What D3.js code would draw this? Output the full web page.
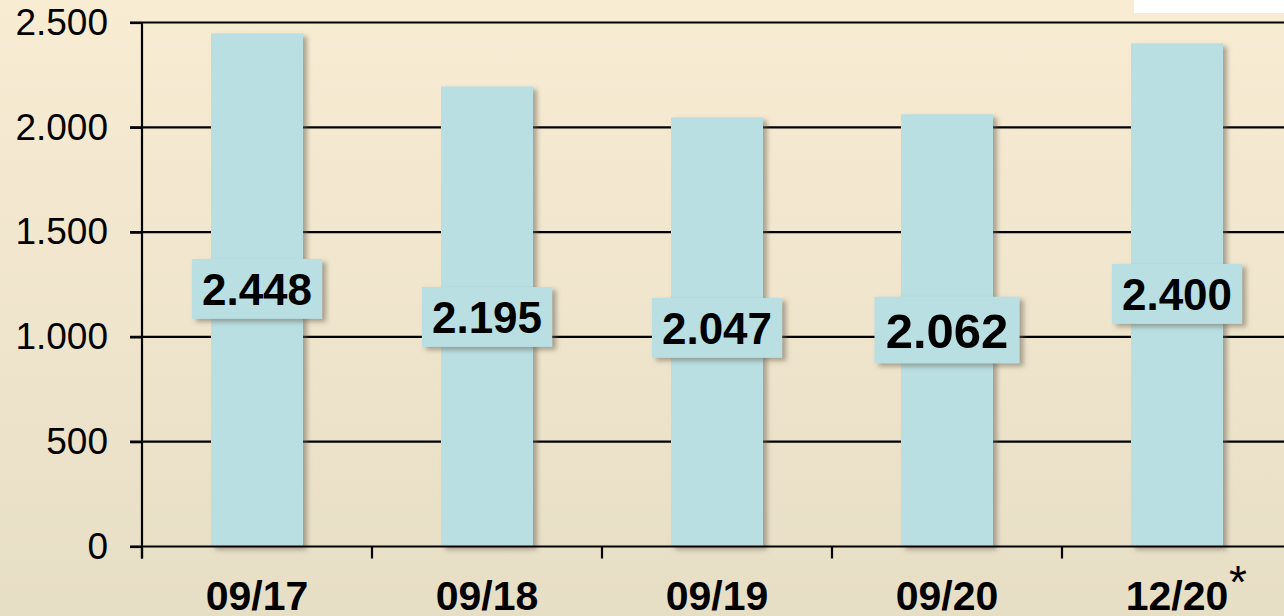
<!DOCTYPE html>
<html lang="en">
<head>
    <meta charset="UTF-8" />
    <title>Bar chart</title>
    <script src="https://d3js.org/d3.v7.min.js"></script>
    <style>
        html, body { margin: 0; padding: 0; }
        svg { display: block; font-family: "Liberation Sans", Arial, sans-serif; }
    </style>
</head>
<body>
    <script>
        // data
        const categories = ["09/17", "09/18", "09/19", "09/20", "12/20"];
        const values = [2448, 2195, 2047, 2062, 2400];
        const valueLabels = ["2.448", "2.195", "2.047", "2.062", "2.400"];
        const yTicks = [0, 500, 1000, 1500, 2000, 2500];
        const yTickLabels = ["0", "500", "1.000", "1.500", "2.000", "2.500"];

        // where the label boxes sit (value units) and their font size
        const labelAt = [1229, 1095, 1043, 1033, 1205];
        const labelFont = [44, 44, 44, 49, 44];

        const width = 1284, height = 616;
        const margin = { left: 142, top: 22.5, bottom: 69.5 };

        const svg = d3.select("body").append("svg")
            .attr("width", width)
            .attr("height", height);

        const defs = svg.append("defs");
        const grad = defs.append("linearGradient")
            .attr("id", "bg").attr("x1", 0).attr("y1", 0).attr("x2", 0).attr("y2", 1);
        grad.append("stop").attr("offset", "0%").attr("stop-color", "#f8ecd3");
        grad.append("stop").attr("offset", "100%").attr("stop-color", "#e7dec6");

        const shadow = defs.append("filter").attr("id", "shadow")
            .attr("x", "-20%").attr("y", "-20%").attr("width", "150%").attr("height", "150%");
        shadow.append("feDropShadow")
            .attr("dx", 4).attr("dy", 3).attr("stdDeviation", 2.5)
            .attr("flood-color", "#6b6555").attr("flood-opacity", 0.55);

        svg.append("rect").attr("width", width).attr("height", height).attr("fill", "url(#bg)");
        svg.append("rect").attr("x", 1134).attr("y", 0).attr("width", 150).attr("height", 13).attr("fill", "#ffffff");

        // scales
        const x = d3.scaleBand()
            .domain(categories)
            .range([margin.left, margin.left + 230 * categories.length])
            .paddingInner(0.6).paddingOuter(0.3);
        const y = d3.scaleLinear()
            .domain([0, 2500])
            .range([height - margin.bottom, margin.top]);

        // grid lines
        svg.append("g").selectAll("line")
            .data(yTicks.filter(d => d > 0))
            .join("line")
            .attr("x1", 130).attr("x2", width)
            .attr("y1", d => y(d)).attr("y2", d => y(d))
            .attr("stroke", "#000").attr("stroke-width", 2.2);

        // bars
        svg.append("g").selectAll("rect")
            .data(values)
            .join("rect")
            .attr("x", (d, i) => x(categories[i]))
            .attr("y", d => y(d))
            .attr("width", x.bandwidth())
            .attr("height", d => y(0) - y(d))
            .attr("fill", "#b9dfe3")
            .attr("filter", "url(#shadow)");

        // y axis
        const yAxis = svg.append("g")
            .attr("transform", `translate(${margin.left},0)`)
            .call(d3.axisLeft(y).tickValues(yTicks).tickFormat((d, i) => yTickLabels[i]).tickSize(12).tickPadding(22));
        yAxis.select(".domain").attr("stroke-width", 2.2).attr("d", `M0,${y(2500)}V${y(0) + 12}`);
        yAxis.selectAll(".tick line").attr("stroke-width", 2.2);
        yAxis.selectAll("text").attr("font-size", 37).attr("fill", "#000").attr("font-family", "Liberation Sans, Arial, sans-serif");

        // x axis
        const step = x.step();
        const xAxis = svg.append("g")
            .attr("transform", `translate(0,${y(0)})`);
        xAxis.append("line")
            .attr("x1", 130).attr("x2", width)
            .attr("stroke", "#000").attr("stroke-width", 2.2);
        xAxis.selectAll(".xtick")
            .data(categories)
            .join("line")
            .attr("x1", d => x(d) - x.paddingOuter() * step)
            .attr("x2", d => x(d) - x.paddingOuter() * step)
            .attr("y1", 0).attr("y2", 12)
            .attr("stroke", "#000").attr("stroke-width", 2.2);
        xAxis.selectAll("text")
            .data(categories)
            .join("text")
            .attr("x", d => x(d) + x.bandwidth() / 2)
            .attr("y", 63)
            .attr("text-anchor", "middle")
            .attr("font-size", 41)
            .attr("font-weight", "bold")
            .text(d => d);
        xAxis.append("text")
            .attr("x", x(categories[4]) + x.bandwidth() / 2 + 61)
            .attr("y", 51)
            .attr("text-anchor", "middle")
            .attr("font-size", 46)
            .text("*");

        // value label boxes
        const labels = svg.append("g").selectAll("g")
            .data(values)
            .join("g")
            .attr("transform", (d, i) => `translate(${x(categories[i]) + x.bandwidth() / 2},${y(labelAt[i])})`);
        labels.append("rect")
            .attr("x", (d, i) => -labelFont[i] * 1.48)
            .attr("y", (d, i) => -labelFont[i] * 0.68)
            .attr("width", (d, i) => labelFont[i] * 2.96)
            .attr("height", (d, i) => labelFont[i] * 1.36)
            .attr("fill", "#b9dfe3")
            .attr("filter", "url(#shadow)");
        labels.append("text")
            .attr("text-anchor", "middle")
            .attr("dy", "0.36em")
            .attr("font-size", (d, i) => labelFont[i])
            .attr("font-weight", "bold")
            .text((d, i) => valueLabels[i]);
    </script>
</body>
</html>
